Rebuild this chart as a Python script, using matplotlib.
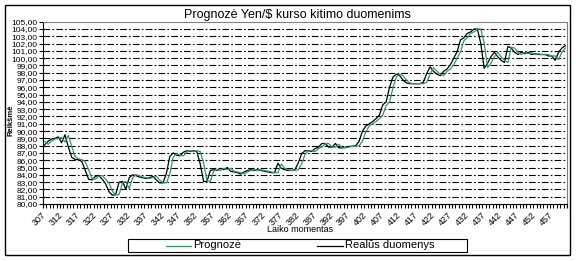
import matplotlib
matplotlib.use("Agg")
import matplotlib.pyplot as plt
from matplotlib.patches import Rectangle
from matplotlib.lines import Line2D
from matplotlib.ticker import FuncFormatter
import numpy as np

plt.rcParams['font.family'] = ['Liberation Sans', 'DejaVu Sans']

title = "Prognozė Yen/$ kurso kitimo duomenims"
x_title = "Laiko momentas"
y_title = "Reikšmė"
series_names = ["Prognozė", "Realūs duomenys"]

# time moments 307..461, labelled every 5th
first_moment = 307
label_step = 5

# real values (black)
real = [
    88.1, 88.6, 88.9, 89.0, 89.2, 88.4, 89.5, 87.8, 86.4, 86.1,
    86.1, 85.8, 84.6, 83.4, 83.3, 83.8, 83.9, 83.4, 82.8, 81.7,
    81.2, 81.3, 83.0, 83.1, 82.0, 83.6, 84.0, 83.9, 83.7, 83.6,
    83.5, 83.6, 83.8, 83.3, 82.9, 82.9, 84.2, 86.5, 87.0, 86.7,
    86.6, 87.1, 87.3, 87.2, 87.3, 87.2, 85.5, 83.1, 83.1, 84.6,
    84.7, 84.6, 84.9, 84.7, 85.0, 84.5, 84.4, 84.3, 84.1, 84.4,
    84.6, 84.7, 84.6, 84.7, 84.6, 84.5, 84.4, 84.3, 84.3, 85.6,
    84.9, 84.7, 84.6, 84.6, 84.7, 85.6, 86.9, 87.3, 87.3, 87.2,
    87.6, 87.8, 88.3, 88.3, 87.8, 87.8, 88.3, 87.7, 87.7, 87.8,
    87.9, 87.9, 88.0, 88.6, 90.0, 90.7, 91.0, 91.3, 91.7, 92.2,
    93.6, 94.0, 96.0, 97.4, 97.8, 97.6, 97.0, 96.6, 96.5, 96.5,
    96.5, 96.5, 96.7, 97.9, 98.8, 98.2, 97.8, 97.6, 98.2, 98.5,
    99.1, 100.0, 100.9, 102.5, 102.8, 103.4, 103.6, 104.0, 104.0, 102.0,
    98.6, 99.3, 100.2, 100.8, 100.2, 99.7, 99.4, 101.6, 101.4, 100.8,
    100.5, 100.8, 100.6, 100.8, 100.5, 100.6, 100.5, 100.5, 100.5, 100.3,
    100.3, 99.7, 100.8, 101.4, 101.7]

# forecast values (green)
forecast = [
    88.6, 88.2, 88.6, 88.9, 89.0, 89.1, 88.5, 89.4, 87.9, 86.5,
    86.2, 86.1, 85.8, 84.7, 83.5, 83.4, 83.8, 83.9, 83.4, 82.9,
    81.8, 81.2, 81.3, 82.9, 83.1, 82.1, 83.6, 84.0, 83.9, 83.7,
    83.6, 83.5, 83.6, 83.8, 83.3, 82.9, 82.9, 84.1, 86.4, 86.9,
    86.7, 86.6, 87.1, 87.3, 87.2, 87.3, 87.2, 85.6, 83.2, 83.1,
    84.5, 84.7, 84.6, 84.9, 84.7, 84.9, 84.5, 84.4, 84.3, 84.1,
    84.4, 84.6, 84.7, 84.6, 84.7, 84.6, 84.5, 84.4, 84.3, 84.3,
    85.5, 84.9, 84.7, 84.6, 84.6, 84.7, 85.5, 86.8, 87.3, 87.3,
    87.2, 87.6, 87.8, 88.3, 88.3, 87.8, 87.8, 88.2, 87.7, 87.7,
    87.8, 87.9, 87.9, 88.0, 88.6, 89.9, 90.7, 91.0, 91.3, 91.7,
    92.2, 93.5, 94.0, 95.9, 97.4, 97.8, 97.6, 97.0, 96.6, 96.5,
    96.5, 96.5, 96.5, 96.7, 97.8, 98.7, 98.2, 97.8, 97.6, 98.2,
    98.5, 99.1, 100.0, 100.9, 102.4, 102.8, 103.4, 103.6, 104.0, 104.0,
    102.1, 98.7, 99.3, 100.2, 100.8, 100.2, 99.7, 99.4, 101.5, 101.4,
    100.8, 100.5, 100.8, 100.6, 100.8, 100.5, 100.6, 100.5, 100.5, 100.5,
    100.3, 100.3, 99.8, 100.8, 101.4]

y_min, y_max = 80, 105

W, H = 576, 261
fig = plt.figure(figsize=(W / 100, H / 100), dpi=100)
ax = fig.add_axes([43 / W, 1 - 204 / H, (567 - 43) / W, (204 - 21.7) / H])

n = len(real)
xs = np.arange(n)
green = "#339966"

# grid
for v in range(y_min + 1, y_max):
    ax.axhline(v, color="black", lw=0.8, ls=(0, (6, 2, 1.5, 2)), zorder=1)

ax.plot(xs, forecast, color=green, lw=0.9, zorder=3)
ax.plot(xs, real, color="black", lw=0.9, zorder=2)

ax.set_xlim(-0.5, n - 0.5)
ax.set_ylim(y_min, y_max)

for s in ("top", "right"):
    ax.spines[s].set_color("#808080")
    ax.spines[s].set_linewidth(0.8)
for s in ("left", "bottom"):
    ax.spines[s].set_linewidth(0.8)

ax.set_yticks(range(y_min, y_max + 1))
ax.yaxis.set_major_formatter(FuncFormatter(lambda v, p: f"{v:.2f}".replace(".", ",")))
ax.tick_params(axis="y", labelsize=6, length=3, width=0.8, pad=1)

label_pos = list(range(0, n, label_step))
ax.set_xticks(label_pos)
ax.set_xticklabels([str(first_moment + i) for i in label_pos], rotation=45,
                   ha="right", va="center", rotation_mode="anchor", fontsize=6.5)
ax.set_xticks(np.arange(-0.5, n, 1), minor=True)
ax.tick_params(axis="x", which="major", length=0, pad=7)
ax.tick_params(axis="x", which="minor", length=3, width=0.8)

fig.text(297 / W, 1 - 15 / H, title, ha="center", va="center", fontsize=9)
fig.text(300 / W, 1 - 229 / H, x_title, ha="center", va="center", fontsize=6.5)
fig.text(11 / W, 1 - 120 / H, y_title, ha="center", va="center", rotation=90,
         fontsize=5.5, fontweight="bold")

# legend box drawn by hand to keep Excel's spacing
def fx(px):
    return px / W


def fy(py):
    return 1 - py / H


fig.patches.append(Rectangle((fx(128), fy(252)), (467 - 128) / W, 13 / H,
                             transform=fig.transFigure, fill=False,
                             edgecolor="black", lw=0.8))
leg_y = 245.5
for (x0, x1), color, name in zip([(166, 191), (317, 343)], [green, "black"], series_names):
    fig.lines.append(Line2D([fx(x0), fx(x1)], [fy(leg_y), fy(leg_y)],
                            transform=fig.transFigure, color=color, lw=0.9))
    fig.text(fx(x1 + 2), fy(leg_y), name, ha="left", va="center", fontsize=8)

fig.patches.append(Rectangle((5 / W, 1 - 255 / H), 565 / W, 250 / H,
                             transform=fig.transFigure, fill=False,
                             edgecolor="black", lw=1))

fig.savefig("out.png", dpi=100)
